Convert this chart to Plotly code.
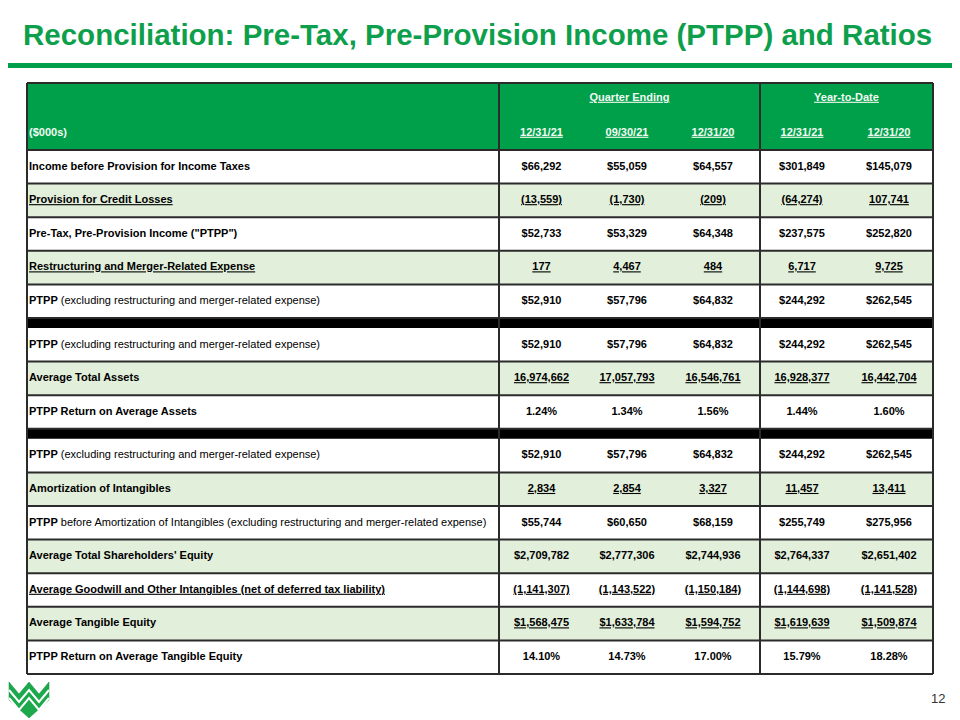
import plotly.graph_objects as go

# ---------------- DATA ----------------
title_text = "Reconciliation: Pre-Tax, Pre-Provision Income (PTPP) and Ratios"
units_label = "($000s)"
group_headers = ["Quarter Ending", "Year-to-Date"]
col_headers = ["12/31/21", "09/30/21", "12/31/20", "12/31/21", "12/31/20"]

row_labels = [
    "<b>Income before Provision for Income Taxes</b>",
    "<b><u>Provision for Credit Losses</u></b>",
    "<b>Pre-Tax, Pre-Provision Income (\"PTPP\")</b>",
    "<b><u>Restructuring and Merger-Related Expense</u></b>",
    "<b>PTPP</b> (excluding restructuring and merger-related expense)",
    "<b>PTPP</b> (excluding restructuring and merger-related expense)",
    "<b>Average Total Assets</b>",
    "<b>PTPP Return on Average Assets</b>",
    "<b>PTPP</b> (excluding restructuring and merger-related expense)",
    "<b>Amortization of Intangibles</b>",
    "<b>PTPP</b> before Amortization of Intangibles (excluding restructuring and merger-related expense)",
    "<b>Average Total Shareholders' Equity</b>",
    "<b><u>Average Goodwill and Other Intangibles (net of deferred tax liability)</u></b>",
    "<b>Average Tangible Equity</b>",
    "<b>PTPP Return on Average Tangible Equity</b>",
]

q_12_31_21 = [66292, -13559, 52733, 177, 52910, 52910, 16974662, 1.24, 52910, 2834, 55744, 2709782, -1141307, 1568475, 14.10]
q_09_30_21 = [55059, -1730, 53329, 4467, 57796, 57796, 17057793, 1.34, 57796, 2854, 60650, 2777306, -1143522, 1633784, 14.73]
q_12_31_20 = [64557, -209, 64348, 484, 64832, 64832, 16546761, 1.56, 64832, 3327, 68159, 2744936, -1150184, 1594752, 17.00]
ytd_12_31_21 = [301849, -64274, 237575, 6717, 244292, 244292, 16928377, 1.44, 244292, 11457, 255749, 2764337, -1144698, 1619639, 15.79]
ytd_12_31_20 = [145079, 107741, 252820, 9725, 262545, 262545, 16442704, 1.60, 262545, 13411, 275956, 2651402, -1141528, 1509874, 18.28]

row_formats = ["dollar", "number", "dollar", "number", "dollar", "dollar", "number", "pct",
               "dollar", "number", "dollar", "dollar", "number", "dollar", "pct"]
value_underlined = [False, True, False, True, False, False, True, False,
                    False, True, False, False, True, True, False]
row_shaded = [False, True, False, True, False, False, True, False,
              False, True, False, True, False, True, False]
section_breaks_after = [4, 7]
page_number = "12"

columns = [q_12_31_21, q_09_30_21, q_12_31_20, ytd_12_31_21, ytd_12_31_20]

# ---------------- STYLE / LAYOUT ----------------
GREEN = "#00A04A"
TITLE_GREEN = "#0E9F4C"
SHADE = "#E2EFDA"
LINE = "#2B2B2B"
FONT = "Liberation Sans, Arial, sans-serif"

# page offset of the figure (default body margin of the html page)
PAGE_OFF = 8
W, H = 960, 720

X_LEFT, X_LABEL_END, X_SPLIT, X_RIGHT = 27, 499, 760, 933
COL_X = [541.5, 627, 713, 802, 889]
LABEL_X = 29
HEADER_TOP, HEADER_H = 83, 67
ROW_H, BAR_H = 33.6, 10


def fmt(v, kind, ul):
    if kind == "pct":
        s = f"{v:.2f}%"
    elif kind == "dollar":
        s = f"${v:,.0f}" if v >= 0 else f"(${-v:,.0f})"
    else:
        s = f"{v:,.0f}" if v >= 0 else f"({-v:,.0f})"
    return f"<u>{s}</u>" if ul else s


# row geometry
row_tops, bar_tops = [], []
y = HEADER_TOP + HEADER_H
for i in range(len(row_labels)):
    row_tops.append(y)
    y += ROW_H
    if i in section_breaks_after:
        bar_tops.append(y)
        y += BAR_H
TABLE_BOTTOM = y
row_centers = [t + ROW_H / 2 for t in row_tops]

shapes = []
# title rule
shapes.append(dict(type="rect", x0=0, x1=W, y0=63, y1=68, fillcolor=GREEN, line_width=0, layer="below"))
# header
shapes.append(dict(type="rect", x0=X_LEFT, x1=X_RIGHT, y0=HEADER_TOP, y1=HEADER_TOP + HEADER_H,
                   fillcolor=GREEN, line_width=0, layer="below"))
# row fills
for t, sh in zip(row_tops, row_shaded):
    shapes.append(dict(type="rect", x0=X_LEFT, x1=X_RIGHT, y0=t, y1=t + ROW_H,
                       fillcolor=SHADE if sh else "white", line_width=0, layer="below"))
# black bars
for b in bar_tops:
    shapes.append(dict(type="rect", x0=X_LEFT, x1=X_RIGHT, y0=b, y1=b + BAR_H,
                       fillcolor="black", line_width=0, layer="below"))
# horizontal borders
hlines = [HEADER_TOP, HEADER_TOP + HEADER_H, TABLE_BOTTOM] + [t + ROW_H for t in row_tops]
for hy in hlines:
    shapes.append(dict(type="line", x0=X_LEFT, x1=X_RIGHT, y0=hy, y1=hy,
                       line=dict(color=LINE, width=2), layer="below"))
# vertical borders
for vx in [X_LEFT, X_LABEL_END, X_SPLIT, X_RIGHT]:
    shapes.append(dict(type="line", x0=vx, x1=vx, y0=HEADER_TOP, y1=TABLE_BOTTOM,
                       line=dict(color=LINE, width=2), layer="below"))

# logo (decorative chevron W)
shapes.append(dict(type="path",
                   path="M 9 682 L 19 694 L 29 682 L 39 694 L 49 682 L 49 700 L 29 718 L 9 700 Z",
                   fillcolor="#1BA94C", line=dict(color="#0E8E3E", width=0.5), layer="below"))
shapes.append(dict(type="path",
                   path="M 9 690 L 19 702 L 29 690 L 39 702 L 49 690",
                   line=dict(color="white", width=2), layer="above"))
shapes.append(dict(type="path",
                   path="M 9 698 L 19 710 L 29 698 L 39 710 L 49 698",
                   line=dict(color="white", width=2), layer="above"))

fig = go.Figure()

# labels
fig.add_trace(go.Scatter(
    x=[LABEL_X] * len(row_labels), y=row_centers, text=row_labels, mode="text",
    textposition="middle right", textfont=dict(family=FONT, size=11, color="black"),
    hoverinfo="skip", showlegend=False, cliponaxis=False))

# values
for cx, vals in zip(COL_X, columns):
    fig.add_trace(go.Scatter(
        x=[cx] * len(vals), y=row_centers,
        text=[fmt(v, k, u) for v, k, u in zip(vals, row_formats, value_underlined)],
        mode="text", textposition="middle center",
        textfont=dict(family=FONT, size=11, color="black", weight="bold"),
        hoverinfo="skip", showlegend=False, cliponaxis=False))

# header texts
HDR_Y1, HDR_Y2 = 98, 133
fig.add_trace(go.Scatter(
    x=[(X_LABEL_END + X_SPLIT) / 2, (X_SPLIT + X_RIGHT) / 2], y=[HDR_Y1, HDR_Y1],
    text=[f"<u>{g}</u>" for g in group_headers], mode="text", textposition="middle center",
    textfont=dict(family=FONT, size=11, color="#F2FAF2", weight="bold"),
    hoverinfo="skip", showlegend=False, cliponaxis=False))
fig.add_trace(go.Scatter(
    x=COL_X, y=[HDR_Y2] * len(COL_X),
    text=[f"<u>{c}</u>" for c in col_headers], mode="text", textposition="middle center",
    textfont=dict(family=FONT, size=11, color="#F2FAF2", weight="bold"),
    hoverinfo="skip", showlegend=False, cliponaxis=False))
fig.add_trace(go.Scatter(
    x=[LABEL_X], y=[HDR_Y2], text=[units_label], mode="text", textposition="middle right",
    textfont=dict(family=FONT, size=11, color="#F2FAF2", weight="bold"),
    hoverinfo="skip", showlegend=False, cliponaxis=False))

annotations = [
    dict(x=21, y=34, xref="x", yref="y", text=f"<b>{title_text}</b>", showarrow=False,
         xanchor="left", yanchor="middle", font=dict(family=FONT, size=29.5, color=TITLE_GREEN)),
    dict(x=947, y=698, xref="x", yref="y", text=page_number, showarrow=False,
         xanchor="right", yanchor="middle", font=dict(family=FONT, size=13, color="#333333")),
]

fig.update_layout(
    width=W - PAGE_OFF, height=H - PAGE_OFF, margin=dict(l=0, r=0, t=0, b=0),
    paper_bgcolor="white", plot_bgcolor="white",
    xaxis=dict(range=[PAGE_OFF, W], visible=False, fixedrange=True),
    yaxis=dict(range=[H, PAGE_OFF], visible=False, fixedrange=True),
    shapes=shapes, annotations=annotations, showlegend=False,
)

fig.write_html("out.html")
